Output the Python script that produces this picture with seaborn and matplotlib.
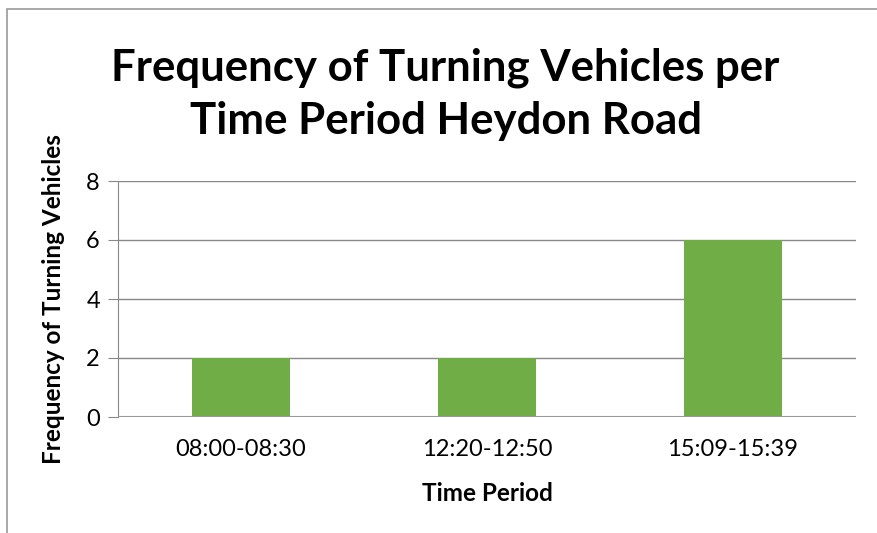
import pandas as pd
import seaborn as sns
import matplotlib.pyplot as plt
from matplotlib.patches import Rectangle

periods = ["08:00-08:30", "12:20-12:50", "15:09-15:39"]
counts = [2, 2, 6]

df = pd.DataFrame({"period": periods, "count": counts})

sns.set_style("white")
plt.rcParams["font.family"] = ["Lato", "DejaVu Sans"]
plt.rcParams["text.color"] = "black"
plt.rcParams["axes.labelcolor"] = "black"
plt.rcParams["xtick.labelcolor"] = "black"
plt.rcParams["ytick.labelcolor"] = "black"

fig = plt.figure(figsize=(8.77, 5.33), dpi=100)
ax = fig.add_axes([118 / 877, 1 - 417 / 533, (856 - 118) / 877, (417 - 181) / 533])

sns.barplot(data=df, x="period", y="count", color="#70AD47", width=0.4,
            saturation=1, linewidth=0, ax=ax, zorder=3)

ax.set_ylim(0, 8)
ax.set_yticks([0, 2, 4, 6, 8])
ax.yaxis.grid(True, color="#888888", linewidth=1)
ax.set_axisbelow(True)
for s in ["top", "right", "bottom"]:
    ax.spines[s].set_visible(False)
ax.spines["left"].set_color("#888888")
ax.axhline(0, color="#999999", linewidth=1.5, zorder=4)
ax.tick_params(axis="y", left=True, length=7, color="#888888", labelsize=17, pad=6)
ax.tick_params(axis="x", bottom=False, labelsize=17, pad=12)

ax.set_xlabel("Time Period", fontsize=17.5, fontweight="bold", labelpad=16)
ax.set_ylabel("Frequency of Turning Vehicles", fontsize=17.5, fontweight="bold")
ax.yaxis.set_label_coords(-0.072, 0.5)

fig.text(0.508, 0.735, "Frequency of Turning Vehicles per\nTime Period Heydon Road",
         ha="center", va="bottom", fontsize=31.5, fontweight="bold", linespacing=1.4)

# chart border (cut off on the right and bottom)
fig.add_artist(Rectangle((7 / 877, -0.1), 1.2, 1 - 9 / 533 + 0.1, transform=fig.transFigure,
                         fill=False, edgecolor="#999999", linewidth=1.2))

fig.savefig("out.png", dpi=100)
